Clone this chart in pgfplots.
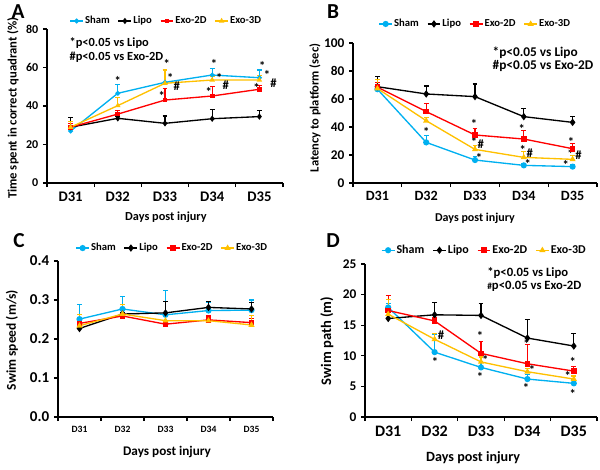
\documentclass[border=0pt]{standalone}
\usepackage{pgfplots}
\pgfplotsset{compat=1.18}
\usepackage{fontspec}
\setmainfont{Carlito}
\newcommand{\fs}[1]{\fontsize{#1}{#1}\selectfont}
\newcommand{\st}{\raisebox{-0.5em}{*}}
\definecolor{sham}{RGB}{0,176,240}
\definecolor{exotwo}{RGB}{255,0,0}
\definecolor{exothree}{RGB}{255,192,0}
\pgfplotsset{
  panel/.style={
    scale only axis, clip=false,
    axis lines=left, axis line style={-, line width=0.8pt},
    xmin=-0.5, xmax=4.5,
    xtick={0,1,2,3,4}, xticklabels={D31,D32,D33,D34,D35},
    minor xtick={-0.5,0.5,1.5,2.5,3.5,4.5},
    major x tick style={draw=none},
    minor tick length=3pt, major tick length=3pt,
    tick align=outside, tick style={line width=0.8pt, black},
    /pgf/number format/assume math mode=true,
    xlabel={Days post injury},
    legend columns=4,
    legend style={draw=none, fill=none, anchor=center, inner sep=0pt,
      /tikz/every even column/.append style={column sep=5pt},
      nodes={inner sep=1pt}},
    legend image code/.code={\draw[mark repeat=2,mark phase=2,#1] plot coordinates {(0cm,0cm) (0.17cm,0cm) (0.34cm,0cm)};},
    every axis plot/.append style={line width=1pt,
      error bars/y dir=plus, error bars/y explicit,
      error bars/error bar style={line width=0.8pt},
      error bars/error mark options={rotate=90, mark size=1.8pt, line width=0.8pt}},
  },
  shamS/.style={color=sham, mark=*, mark size=1.8pt},
  lipoS/.style={color=black, mark=diamond*, mark size=2pt},
  twoS/.style={color=exotwo, mark=square*, mark size=1.6pt},
  threeS/.style={color=exothree, mark=triangle*, mark size=1.7pt},
}
\tikzset{
  star/.style={anchor=center, inner sep=0pt, text height=0.18em, text depth=0.18em},
  hash/.style={anchor=center, inner sep=0pt},
}
\begin{document}
\begin{tikzpicture}
\useasboundingbox (0,0) rectangle (450pt,351.75pt);

% ---------------- A ----------------
\begin{axis}[panel, at={(35.25pt,214.5pt)}, anchor=south west,
  width=177pt, height=115.5pt,
  ymin=0, ymax=80, ytick={0,20,40,60,80},
  yticklabel style={font=\bfseries\fs{9}},
  xticklabel style={font=\bfseries\fs{11}},
  ylabel={Time spent in correct quadrant (\%)},
  ylabel style={at={(axis description cs:-0.144,0.487)}, anchor=center, font=\bfseries\fs{9.5}},
  xlabel style={at={(axis description cs:0.504,-0.221)}, anchor=center, font=\bfseries\fs{9.2}},
  legend style={at={(0.504,1.052)}, font=\bfseries\fs{8}},
  shamS/.append style={mark size=1.3pt},
  lipoS/.append style={mark size=1.6pt},
  twoS/.append style={mark size=1.3pt},
  threeS/.append style={mark size=1.4pt},
]
\addplot[shamS] coordinates {(0,27) +- (0,3) (1,46.6) +- (0,4.4) (2,52.3) +- (0,6.4) (3,56.1) +- (0,3.5) (4,54.7) +- (0,4)};
\addplot[lipoS] coordinates {(0,29) +- (0,5) (1,33.6) +- (0,1.2) (2,31.0) +- (0,3.8) (3,33.4) +- (0,5) (4,34.5) +- (0,3.4)};
\addplot[twoS] coordinates {(0,29) +- (0,2) (1,35.8) +- (0,1.7) (2,43.1) +- (0,6.1) (3,45.2) +- (0,4.8) (4,48.7) +- (0,2)};
\addplot[threeS] coordinates {(0,29) +- (0,3) (1,40.2) +- (0,4.3) (2,51.8) +- (0,6.9) (3,53.5) +- (0,2) (4,53.5) +- (0,2.5)};
\legend{Sham,Lipo,Exo-2D,Exo-3D}
\node[font=\bfseries\fs{16}] at (axis description cs:-0.123,1.11) {A};
\node[anchor=west, font=\bfseries\fs{9.3}] at (axis description cs:0.076,0.909) {*p<0.05 vs Lipo};
\node[anchor=west, font=\bfseries\fs{9.3}] at (axis description cs:0.076,0.818) {\#p<0.05 vs Exo-2D};
\begin{scope}[every node/.append style={font=\bfseries\fs{9.5}}]
\node[star] at (axis cs:1.0,54) {\st};
\node[star] at (axis cs:2.04,63) {\st};
\node[star] at (axis cs:1.93,46) {\st};
\node[star] at (axis cs:2.11,55.4) {\st};
\node[hash] at (axis cs:2.25,50.3) {\#};
\node[star] at (axis cs:3.04,63) {\st};
\node[star] at (axis cs:2.93,48.3) {\st};
\node[star] at (axis cs:3.15,55.6) {\st};
\node[hash] at (axis cs:3.29,51.0) {\#};
\node[star] at (axis cs:4.06,61.9) {\st};
\node[star] at (axis cs:3.94,50.4) {\st};
\node[star] at (axis cs:4.16,57.2) {\st};
\node[hash] at (axis cs:4.30,51.9) {\#};
\end{scope}
\end{axis}

% ---------------- B ----------------
\begin{axis}[panel, at={(264.75pt,214.5pt)}, anchor=south west,
  width=183pt, height=105pt,
  ymin=0, ymax=100, ytick={0,20,40,60,80,100},
  yticklabel style={font=\bfseries\fs{10}},
  xticklabel style={font=\bfseries\fs{10.6}},
  ylabel={Latency to platform (sec)},
  ylabel style={at={(axis description cs:-0.156,0.536)}, anchor=center, font=\bfseries\fs{9.4}},
  xlabel style={at={(axis description cs:0.5,-0.25)}, anchor=center, font=\bfseries\fs{9}},
  legend style={at={(0.5,1.136)}, font=\bfseries\fs{8}},
]
\addplot[shamS] coordinates {(0,67) +- (0,2) (1,29) +- (0,4.8) (2,16.4) +- (0,2.6) (3,12.6) +- (0,1.4) (4,11.7) +- (0,1.3)};
\addplot[lipoS] coordinates {(0,68.8) +- (0,7) (1,63.6) +- (0,5.7) (2,61.7) +- (0,9) (3,47.4) +- (0,5.5) (4,43.3) +- (0,4.1)};
\addplot[twoS] coordinates {(0,68.5) +- (0,3) (1,51) +- (0,6) (2,34.3) +- (0,4.3) (3,31.4) +- (0,6) (4,24.5) +- (0,3.4)};
\addplot[threeS] coordinates {(0,67.5) +- (0,6.5) (1,44.5) +- (0,2.5) (2,24) +- (0,3) (3,18.3) +- (0,4.1) (4,16.9) +- (0,2.6)};
\legend{Sham,Lipo,Exo-2D,Exo-3D}
\node[font=\bfseries\fs{16}] at (axis description cs:-0.082,1.221) {B};
\node[anchor=west, font=\bfseries\fs{10}] at (axis description cs:0.553,0.931) {*p<0.05 vs Lipo};
\node[anchor=west, font=\bfseries\fs{10}] at (axis description cs:0.553,0.836) {\#p<0.05 vs Exo-2D};
\begin{scope}[every node/.append style={font=\bfseries\fs{9.5}}]
\node[star] at (axis cs:1.0,37.9) {\st};
\node[star] at (axis cs:1.98,43.1) {\st};
\node[star] at (axis cs:1.98,30.7) {\st};
\node[hash] at (axis cs:2.12,27.9) {\#};
\node[star] at (axis cs:2.08,19.3) {\st};
\node[star] at (axis cs:2.96,39.8) {\st};
\node[star] at (axis cs:2.98,25.2) {\st};
\node[hash] at (axis cs:3.12,21.2) {\#};
\node[star] at (axis cs:3.08,15.0) {\st};
\node[star] at (axis cs:3.97,30.7) {\st};
\node[star] at (axis cs:3.96,21.8) {\st};
\node[hash] at (axis cs:4.12,20) {\#};
\node[star] at (axis cs:3.86,14.0) {\st};
\end{scope}
\end{axis}

% ---------------- C ----------------
\begin{axis}[panel, at={(43.5pt,39pt)}, anchor=south west,
  width=161.25pt, height=117pt,
  ymin=0, ymax=0.4, ytick={0,0.1,0.2,0.3,0.4},
  yticklabel style={font=\bfseries\fs{11.3}, /pgf/number format/.cd, fixed, fixed zerofill, precision=1},
  xticklabel style={font=\bfseries\fs{7.2}},
  ylabel={Swim speed (m/s)},
  ylabel style={at={(axis description cs:-0.214,0.494)}, anchor=center, font=\bfseries\fs{10.1}},
  xlabel style={at={(axis description cs:0.507,-0.224)}, anchor=center, font=\bfseries\fs{9.9}},
  legend style={at={(0.53,1.083)}, font=\bfseries\fs{8}},
]
\addplot[shamS] coordinates {(0,0.251) +- (0,0.038) (1,0.277) +- (0,0.031) (2,0.262) +- (0,0.062) (3,0.273) +- (0,0.02) (4,0.274) +- (0,0.026)};
\addplot[lipoS] coordinates {(0,0.227) +- (0,0.005) (1,0.264) +- (0,0.005) (2,0.267) +- (0,0.029) (3,0.281) +- (0,0.015) (4,0.277) +- (0,0.016)};
\addplot[twoS] coordinates {(0,0.240) +- (0,0.024) (1,0.259) +- (0,0.03) (2,0.238) +- (0,0.01) (3,0.249) +- (0,0.01) (4,0.242) +- (0,0.01)};
\addplot[threeS] coordinates {(0,0.234) +- (0,0.03) (1,0.264) +- (0,0.025) (2,0.247) +- (0,0.01) (3,0.247) +- (0,0.008) (4,0.236) +- (0,0.025)};
\legend{Sham,Lipo,Exo-2D,Exo-3D}
\node[font=\bfseries\fs{16}] at (axis description cs:-0.181,1.128) {C};
\end{axis}

% ---------------- D ----------------
\begin{axis}[panel, at={(273.75pt,39pt)}, anchor=south west,
  width=174pt, height=114.75pt,
  ymin=0, ymax=25, ytick={0,5,10,15,20,25},
  yticklabel style={font=\bfseries\fs{10}},
  xticklabel style={font=\bfseries\fs{12}},
  ylabel={Swim path (m)},
  ylabel style={at={(axis description cs:-0.164,0.497)}, anchor=center, font=\bfseries\fs{10.9}},
  xlabel style={at={(axis description cs:0.466,-0.268)}, anchor=center, font=\bfseries\fs{10.6}},
  legend style={at={(0.513,1.09)}, font=\bfseries\fs{9}},
]
\addplot[shamS] coordinates {(0,17.9) +- (0,0.6) (1,10.6) +- (0,2.9) (2,8.1) +- (0,1) (3,6.2) +- (0,0.8) (4,5.5) +- (0,0.6)};
\addplot[lipoS] coordinates {(0,16.1) +- (0,0.5) (1,16.7) +- (0,2.0) (2,16.6) +- (0,1.9) (3,12.9) +- (0,3.0) (4,11.6) +- (0,2.1)};
\addplot[twoS] coordinates {(0,17.4) +- (0,2.5) (1,15.7) +- (0,0.6) (2,10.4) +- (0,2.0) (3,8.7) +- (0,3.1) (4,7.5) +- (0,0.8)};
\addplot[threeS] coordinates {(0,16.8) +- (0,2.4) (1,12.7) +- (0,1.0) (2,9.0) +- (0,0.8) (3,7.4) +- (0,0.6) (4,6.2) +- (0,0.5)};
\legend{Sham,Lipo,Exo-2D,Exo-3D}
\node[font=\bfseries\fs{16}] at (axis description cs:-0.138,1.15) {D};
\node[anchor=west, font=\bfseries\fs{9.5}] at (axis description cs:0.507,0.943) {*p<0.05 vs Lipo};
\node[anchor=west, font=\bfseries\fs{9.5}] at (axis description cs:0.507,0.852) {{\fs{7}\#}p<0.05 vs Exo-2D};
\begin{scope}[every node/.append style={font=\bfseries\fs{9.5}}]
\node[star] at (axis cs:1.01,9.3) {\st};
\node[hash] at (axis cs:1.14,13.4) {\#};
\node[star] at (axis cs:1.98,13.6) {\st};
\node[star] at (axis cs:2.09,9.6) {\st};
\node[star] at (axis cs:1.98,6.9) {\st};
\node[star] at (axis cs:2.98,12.2) {\st};
\node[star] at (axis cs:3.10,8.0) {\st};
\node[star] at (axis cs:2.97,5.0) {\st};
\node[star] at (axis cs:3.98,9.3) {\st};
\node[star] at (axis cs:3.87,7.0) {\st};
\node[star] at (axis cs:3.98,4.1) {\st};
\end{scope}
\end{axis}
\end{tikzpicture}
\end{document}
